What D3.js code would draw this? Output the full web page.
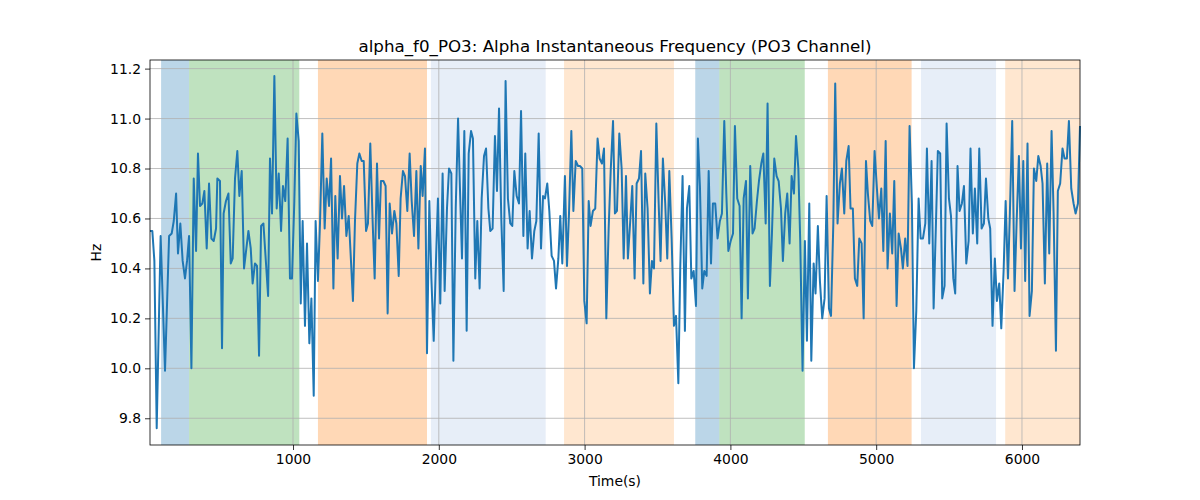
<!DOCTYPE html>
<html><head><meta charset="utf-8">
<script src="https://cdn.jsdelivr.net/npm/d3@7"></script>
<style>body{margin:0;background:#fff}svg text{font-family:"DejaVu Sans",sans-serif}</style>
</head><body><svg id="c" width="1200" height="500"></svg>
<script>
const times = [19,35,49,65,92,122,150,168,182,198,211,227,243,259,273,287,303,319,335,348,362,378,392,408,424,440,456,472,481,499,513,524,540,557,573,586,602,618,632,648,664,694,710,723,739,753,767,781,797,829,842,856,872,888,902,918,931,947,963,979,993,1009,1023,1039,1053,
1066,1082,1096,1112,1126,1142,1155,1171,1185,1201,1217,1231,1247,1261,1277,1290,1306,1322,1336,1350,1366,1382,1395,1411,1425,1441,1455,1471,1485,1501,1514,1530,1546,1560,1576,1590,1603,1620,1635,1649,1663,1679,1695,1709,1725,1738,1754,1768,1784,1800,1814,1830,1846,1860,1876,1889,1905,1919,1935,1949,1965,1981,1994,2010,2026,2040,2056,2070,2086,2100,2116,2132,
2145,2159,2175,2191,2205,2221,2234,2250,2264,2280,2294,2310,2324,2340,2353,2369,2385,2399,2413,2429,2445,2458,2474,2490,2504,2518,2534,2550,2564,2580,2593,2609,2623,2639,2655,2669,2685,2701,2715,2728,2744,2758,2774,2790,2804,2820,2833,2847,2865,2879,2893,2909,2923,2939,2955,2968,2984,2998,3014,3028,3041,3057,3073,3089,3103,3119,3133,3149,3165,3179,3195,
3208,3222,3238,3254,3268,3284,3297,3313,3327,3343,3357,3373,3387,3403,3416,3432,3448,3462,3476,3492,3508,3521,3537,3553,3567,3581,3597,3613,3627,3643,3656,3672,3688,3702,3718,3732,3748,3764,3777,3791,3807,3821,3837,3851,3867,3880,3896,3912,3928,3942,3958,3972,3986,4002,4018,4031,4047,4063,4077,4091,4107,4120,4136,4152,4166,4182,4196,4212,4226,4242,4255,4271,
4285,4301,4317,4331,4347,4360,4376,4390,4406,4420,4436,4450,4466,4479,4495,4511,4525,4541,4555,4571,4584,4600,4614,4630,4646,4660,4676,4690,4706,4719,4735,4751,4765,4781,4795,4811,4824,4840,4854,4870,4884,4900,4914,4930,4943,4959,4973,4989,5005,5019,5035,5049,5065,5078,5094,5110,5124,5140,5154,5170,5183,5199,5215,5229,5245,5259,5275,5291,5305,5321,
5337,5348,5364,5380,5394,5410,5423,5439,5453,5469,5483,5499,5513,5529,5542,5558,5572,5588,5602,5618,5634,5647,5663,5677,5693,5707,5723,5739,5753,5769,5782,5798,5814,5828,5844,5858,5874,5888,5904,5917,5933,5949,5963,5979,5993,6009,6022,6038,6052,6068,6082,6098,6112,6128,6141,6157,6173,6187,6203,6217,6233,6246,6262,6278,6292,6308,6322,6338,6354,6368,6384,6398];
const values = [10.55,10.55,10.43,9.76,10.53,9.99,10.53,10.54,10.59,10.70,10.46,10.58,10.43,10.36,10.43,10.53,10.00,10.76,10.47,10.86,10.65,10.66,10.71,10.48,10.74,10.52,10.51,10.56,10.76,10.75,10.08,10.62,10.67,10.70,10.42,10.44,10.76,10.87,10.69,10.79,10.40,10.55,10.48,10.34,10.42,10.41,10.05,10.57,10.58,10.29,10.84,10.62,11.17,10.64,10.78,10.55,10.73,10.67,10.92,10.36,10.36,10.67,11.02,10.91,10.26,
10.59,10.17,10.50,10.10,10.28,9.89,10.59,10.35,10.58,10.94,10.56,10.76,10.65,10.84,10.32,10.69,10.44,10.77,10.60,10.73,10.53,10.61,10.46,10.27,10.59,10.82,10.86,10.83,10.83,10.55,10.58,10.90,10.59,10.36,10.82,10.52,10.75,10.75,10.73,10.22,10.66,10.54,10.63,10.58,10.37,10.68,10.79,10.77,10.63,10.86,10.67,10.53,10.79,10.48,10.81,10.69,10.88,10.06,10.67,10.36,10.11,10.44,10.68,10.26,10.78,10.31,10.64,10.80,10.78,10.03,10.64,11.00,
10.72,10.44,10.95,10.15,10.86,10.95,10.92,10.36,10.59,10.32,10.68,10.85,10.88,10.64,10.55,10.56,10.93,10.71,11.04,10.59,10.31,11.15,10.68,10.58,10.57,10.79,10.69,10.66,11.03,10.53,10.86,10.48,10.63,10.44,10.55,10.59,10.94,10.48,10.69,10.68,10.74,10.63,10.45,10.43,10.32,10.44,10.61,10.42,10.77,10.41,10.62,10.95,10.63,10.83,10.81,10.81,10.80,10.27,10.18,10.67,10.57,10.63,10.64,10.92,10.84,10.82,10.88,10.20,10.56,10.79,10.99,
10.62,10.63,10.94,10.80,10.44,10.77,10.44,10.59,10.73,10.36,10.74,10.76,10.87,10.34,10.78,10.64,10.30,10.43,10.40,10.98,10.66,10.43,10.84,10.66,10.44,10.79,10.52,10.17,10.21,9.94,10.40,10.77,10.15,10.64,10.73,10.36,10.39,10.25,10.92,10.73,10.32,10.39,10.37,10.79,10.42,10.66,10.66,10.52,10.59,10.62,10.99,10.70,10.47,10.51,10.54,10.97,10.68,10.65,10.20,10.68,10.75,10.28,10.81,10.54,10.56,10.67,10.75,10.82,10.86,10.58,11.06,10.33,
10.54,10.84,10.77,10.75,10.64,10.43,10.62,10.70,10.50,10.77,10.70,10.93,10.80,10.51,9.99,10.51,10.11,10.66,10.03,10.42,10.30,10.57,10.35,10.20,10.28,10.69,10.24,10.21,10.58,11.14,10.58,10.74,10.80,10.62,10.83,10.89,10.64,10.64,10.36,10.33,10.52,10.50,10.20,10.83,10.70,10.59,10.57,10.87,10.72,10.60,10.72,10.47,10.91,10.40,10.62,10.46,10.75,10.25,10.54,10.48,10.40,10.52,10.41,10.97,10.66,10.00,10.23,10.68,10.52,10.52,
10.58,10.88,10.50,10.83,10.24,10.58,10.87,10.86,10.28,10.33,10.98,10.68,10.61,10.36,10.30,10.81,10.63,10.66,10.73,10.42,10.51,10.88,10.54,10.72,10.50,10.88,10.56,10.58,10.76,10.60,10.56,10.17,10.44,10.27,10.34,10.16,10.39,10.67,10.36,10.62,10.99,10.31,10.58,10.85,10.48,10.83,10.35,10.90,10.21,10.31,10.80,10.75,10.85,10.81,10.74,10.34,10.82,10.46,10.95,10.62,10.07,10.71,10.74,10.88,10.84,10.84,10.99,10.72,10.66,10.62,10.66,10.97];
const spanStarts = [95,287,1171,1946,2859,3759,3924,4669,5307,5885];
const spanEnds   = [287,1043,1919,2733,3613,3924,4510,5243,5822,6398];
const spanColors = ["#1f77b4","#2ca02c","#ff7f0e","#aec7e8","#ffbb78","#1f77b4","#2ca02c","#ff7f0e","#aec7e8","#ffbb78"];
const spanAlpha  = [0.3,0.3,0.3,0.3,0.35,0.3,0.3,0.3,0.3,0.35];
const xTicks = [1000,2000,3000,4000,5000,6000];
const yTicks = [9.8,10.0,10.2,10.4,10.6,10.8,11.0,11.2];

const svg = d3.select("#c");
const L=150,R=1080,T=60,B=445;
const x = d3.scaleLinear().domain([19,6398]).range([L,R]);
const y = d3.scaleLinear().domain([9.693,11.2345]).range([B,T]);

svg.append("g").selectAll("rect").data(spanStarts).join("rect")
  .attr("x",(d)=>x(d)).attr("y",T)
  .attr("width",(d,i)=>x(spanEnds[i])-x(d)).attr("height",B-T)
  .attr("fill",(d,i)=>spanColors[i]).attr("fill-opacity",(d,i)=>spanAlpha[i]);

// grid
svg.append("g").selectAll("line").data(xTicks).join("line")
  .attr("x1",d=>x(d)).attr("x2",d=>x(d)).attr("y1",T).attr("y2",B)
  .attr("stroke","#b0b0b0").attr("stroke-width",0.8);
svg.append("g").selectAll("line").data(yTicks).join("line")
  .attr("y1",d=>y(d)).attr("y2",d=>y(d)).attr("x1",L).attr("x2",R)
  .attr("stroke","#b0b0b0").attr("stroke-width",0.8);

svg.append("path").datum(times.map((t,i)=>[t,values[i]]))
  .attr("d",d3.line().x(d=>x(d[0])).y(d=>y(d[1])))
  .attr("fill","none").attr("stroke","#1f77b4").attr("stroke-width",2).attr("stroke-linejoin","round");

const xa = svg.append("g").attr("transform",`translate(0,${B})`)
  .call(d3.axisBottom(x).tickValues(xTicks).tickFormat(d3.format("d")).tickSize(5).tickPadding(4));
const ya = svg.append("g").attr("transform",`translate(${L},0)`)
  .call(d3.axisLeft(y).tickValues(yTicks).tickFormat(d3.format(".1f")).tickSize(5).tickPadding(4));
[xa,ya].forEach(a=>{a.select(".domain").remove();a.selectAll("text").attr("font-size",13.9).attr("fill","#000").attr("font-family","DejaVu Sans");a.selectAll("line").attr("stroke","#000").attr("stroke-width",0.8);});

svg.append("rect").attr("x",L).attr("y",T).attr("width",R-L).attr("height",B-T)
  .attr("fill","none").attr("stroke","#000").attr("stroke-width",0.8);

svg.append("text").attr("x",(L+R)/2).attr("y",52).attr("text-anchor","middle")
  .attr("font-size",16.7).text("alpha_f0_PO3: Alpha Instantaneous Frequency (PO3 Channel)");
svg.append("text").attr("x",(L+R)/2).attr("y",486).attr("text-anchor","middle")
  .attr("font-size",13.9).text("Time(s)");
svg.append("text").attr("transform",`translate(101,${(T+B)/2}) rotate(-90)`).attr("text-anchor","middle")
  .attr("font-size",13.9).text("Hz");
</script></body></html>
